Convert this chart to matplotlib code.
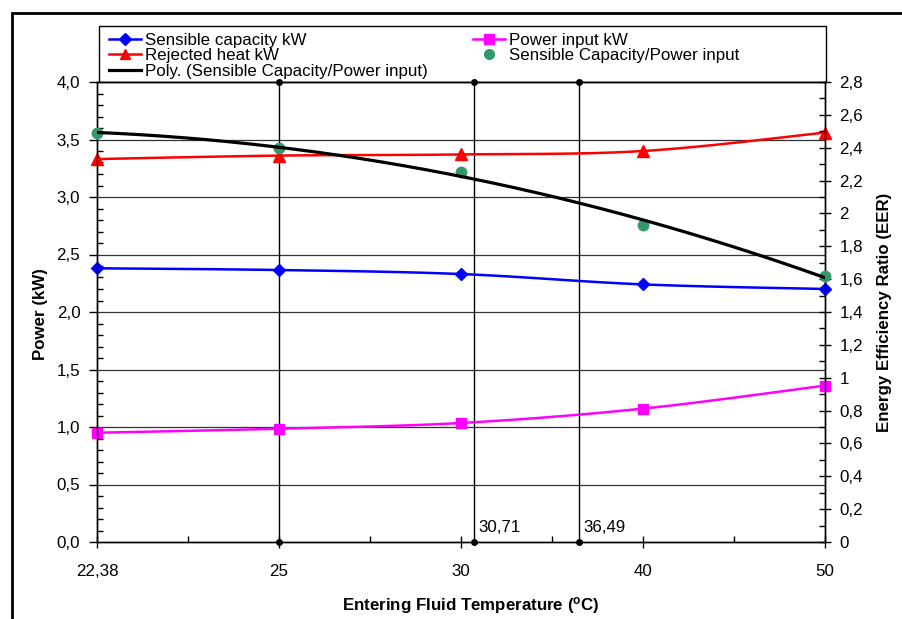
import numpy as np
import matplotlib
matplotlib.use("Agg")
import matplotlib.pyplot as plt
from matplotlib.ticker import FuncFormatter, MultipleLocator, FixedLocator
from matplotlib.lines import Line2D
from matplotlib.patches import Rectangle

plt.rcParams['font.family'] = ['Liberation Sans', 'DejaVu Sans']
plt.rcParams['mathtext.fontset'] = 'custom'
plt.rcParams['mathtext.rm'] = 'Liberation Sans'
plt.rcParams['mathtext.bf'] = 'Liberation Sans:bold'
FS = 12.2

# ---------------- data ----------------
temps = [22.38, 25, 30, 40, 50]
temp_labels = ["22,38", "25", "30", "40", "50"]
sensible = [2.38, 2.365, 2.33, 2.24, 2.20]
rejected = [3.33, 3.36, 3.37, 3.40, 3.56]
power_in = [0.95, 0.985, 1.035, 1.16, 1.36]
eer = [2.49, 2.40, 2.25, 1.93, 1.62]
marker_temps = [25, 30.71, 36.49]
marker_labels = ["", "30,71", "36,49"]

W, H = 902, 619
fig = plt.figure(figsize=(W / 100, H / 100), dpi=100)

def fx(px):
    return px / W

def fy(py):
    return 1 - py / H

L, R, T, B = 97, 825, 82, 542
ax = fig.add_axes([fx(L), fy(B), fx(R) - fx(L), fy(T) - fy(B)])
ax2 = ax.twinx()

idx = np.arange(len(temps))


def smooth(x, y, n=30):
    pts = np.column_stack([x, y]).astype(float)
    P = np.vstack([pts[0], pts, pts[-1]])
    out = []
    t = np.linspace(0, 1, n)[:, None]
    for i in range(len(pts) - 1):
        p0, p1, p2, p3 = P[i], P[i + 1], P[i + 2], P[i + 3]
        seg = 0.5 * ((2 * p1) + (-p0 + p2) * t + (2 * p0 - 5 * p1 + 4 * p2 - p3) * t ** 2
                     + (-p0 + 3 * p1 - 3 * p2 + p3) * t ** 3)
        out.append(seg if i == 0 else seg[1:])
    s = np.vstack(out)
    return s[:, 0], s[:, 1]


# grid lines (left axis majors)
for v in np.arange(0.5, 4.01, 0.5):
    ax.axhline(v, color='#333333', lw=0.9, zorder=1)

# vertical marker lines
mx = np.interp(marker_temps, temps, idx)
for xv, lab in zip(mx, marker_labels):
    ax.plot([xv, xv], [0, 4], color='black', lw=1.0, zorder=2, clip_on=False)
    ax.plot([xv, xv], [0, 4], ls='none', marker='o', ms=4, color='black', zorder=6, clip_on=False)
    if lab:
        ax.annotate(lab, xy=(xv, 0), xytext=(3, 5), textcoords='offset points',
                    ha='left', va='bottom', fontsize=FS)

series = [
    (sensible, '#0000FF', 'D', 6.5),
    (rejected, '#FF0000', '^', 8),
    (power_in, '#FF00FF', 's', 7.5),
]
for vals, col, mk, ms in series:
    sx, sy = smooth(idx, vals)
    ax.plot(sx, sy, color=col, lw=1.8, zorder=4, clip_on=False)
    ax.plot(idx, vals, ls='none', marker=mk, ms=ms, color=col, zorder=5, clip_on=False)

# EER points and polynomial trendline on right axis
coef = np.polyfit(idx, eer, 2)
tx = np.linspace(0, len(temps) - 1, 200)
ax2.plot(idx, eer, ls='none', marker='o', ms=7.5, color='#339966', zorder=3, clip_on=False)
ax2.plot(tx, np.polyval(coef, tx), color='black', lw=2.3, zorder=4)

# axes setup
ax.set_xlim(0, len(temps) - 1)
ax.set_ylim(0, 4)
ax2.set_ylim(0, 2.8)
ax.set_xticks(idx)
ax.set_xticklabels(temp_labels)
ax.xaxis.set_minor_locator(FixedLocator(idx[:-1] + 0.5))
ax.yaxis.set_major_locator(MultipleLocator(0.5))
ax.yaxis.set_minor_locator(MultipleLocator(0.1))
ax2.yaxis.set_major_locator(MultipleLocator(0.2))
ax2.yaxis.set_minor_locator(MultipleLocator(0.1))

ax.yaxis.set_major_formatter(FuncFormatter(lambda v, p: f"{v:.1f}".replace('.', ',')))
ax2.yaxis.set_major_formatter(FuncFormatter(lambda v, p: f"{round(v, 1):g}".replace('.', ',')))

ax.tick_params(axis='y', which='major', direction='out', length=6, width=1, pad=6, labelsize=FS)
ax.tick_params(axis='y', which='minor', direction='in', length=4, width=1)
ax.tick_params(axis='x', which='major', direction='inout', length=8, width=1, pad=11.5, labelsize=FS)
ax.tick_params(axis='x', which='minor', direction='in', length=4, width=1)
ax2.tick_params(axis='y', which='major', direction='inout', length=9, width=1, pad=6, labelsize=FS)
ax2.tick_params(axis='y', which='minor', direction='in', length=4, width=1)

for a in (ax, ax2):
    for s in a.spines.values():
        s.set_color('black')
        s.set_linewidth(1.0)

# axis labels
fig.text(fx(40), fy(314), 'Power (kW)', rotation=90, ha='center', va='center',
         fontsize=FS, fontweight='bold')
fig.text(fx(885), fy(312), 'Energy Efficiency Ratio (EER)', rotation=90, ha='center',
         va='center', fontsize=FS, fontweight='bold')
fig.text(fx(471), fy(605), r'Entering Fluid Temperature ($\mathbf{^o}$C)', ha='center',
         va='center', fontsize=FS, fontweight='bold')

# legend
handles = [
    Line2D([], [], color='#0000FF', lw=1.8, marker='D', ms=6),
    Line2D([], [], color='#FF0000', lw=1.8, marker='^', ms=7.5),
    Line2D([], [], color='black', lw=2.3),
    Line2D([], [], color='#FF00FF', lw=1.8, marker='s', ms=7),
    Line2D([], [], color='#339966', ls='none', marker='o', ms=7),
]
labels = ['Sensible capacity kW', 'Rejected heat kW',
          'Poly. (Sensible Capacity/Power input)', 'Power input kW',
          'Sensible Capacity/Power input']
fig.add_artist(Rectangle((fx(99), fy(82)), fx(826) - fx(99), fy(26) - fy(82),
                         transform=fig.transFigure, fill=True, facecolor='white',
                         edgecolor='black', lw=1.0, zorder=0))
leg_kw = dict(loc='upper left', frameon=False, fontsize=FS, borderpad=0, borderaxespad=0,
              labelspacing=0.03, handlelength=1.9, handletextpad=0.2)
leg1 = fig.legend(handles[:3], labels[:3], bbox_to_anchor=(fx(109), fy(32.5)), **leg_kw)
leg2 = fig.legend(handles[3:], labels[3:], bbox_to_anchor=(fx(473), fy(32.5)), **leg_kw)

# outer chart border
fig.add_artist(Rectangle((fx(12), fy(640)), fx(940) - fx(12), fy(13) - fy(640),
                         transform=fig.transFigure, fill=False, edgecolor='black',
                         lw=2.0, clip_on=False))

fig.savefig('out.png', dpi=100)
